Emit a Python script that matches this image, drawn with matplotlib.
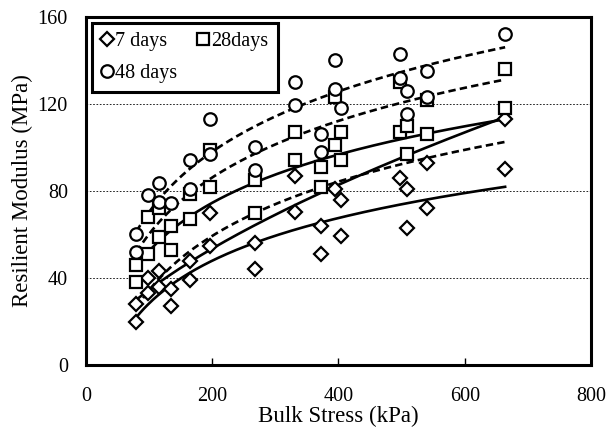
import matplotlib.pyplot as plt
import numpy as np

plt.rcParams['font.family'] = ['Liberation Serif', 'DejaVu Serif']

# 7 days
x7 = [80, 80, 99, 99, 116, 116, 134, 134, 165, 165, 196, 196, 268, 268,
      331, 331, 373, 373, 394, 404, 404, 497, 508, 508, 540, 540, 664, 664]
y7 = [20, 28, 33, 40, 36, 43, 27, 35, 39, 48, 54.5, 70, 44, 56,
      70.5, 87, 51, 64, 81, 59.5, 76, 86, 63, 81, 72, 93, 90, 113]

# 28 days
x28 = [80, 80, 99, 99, 116, 116, 134, 134, 165, 165, 196, 196, 268, 268,
       331, 331, 373, 373, 394, 394, 404, 404, 497, 497, 508, 508, 540, 540, 664, 664]
y28 = [38, 46, 51, 68, 59, 72, 53, 64, 67, 78.5, 82, 99, 70, 85,
       94, 107, 82, 91, 101, 123, 94, 107, 107, 130, 97, 110, 106, 122, 118, 136]

# 48 days
x48 = [80, 80, 99, 116, 116, 134, 165, 165, 196, 196, 268, 268,
       331, 331, 373, 373, 394, 394, 404, 497, 497, 508, 508, 540, 540, 664]
y48 = [52, 60, 78, 75, 83.5, 74.5, 81, 94, 97, 113, 89.5, 100,
       119.5, 130, 98, 106, 127, 140, 118, 132, 143, 115.5, 126, 123, 135, 152]

# trendlines (type, a, b, style): log -> a*ln(x)+b, pow -> a*x^b
fit_x = (80, 664)
fits = [
    ('log', 28.3, -102.0, '-'),
    ('pow', 1.9, 0.63, '-'),
    ('log', 32.0, -95.0, '-'),
    ('log', 36.0, -131.4, '--'),
    ('log', 37.5, -112.5, '--'),
    ('log', 40.0, -113.9, '--'),
]

fig = plt.figure(figsize=(6.08, 4.32), dpi=100)
ax = fig.add_axes([0.1414, 0.155, 0.8306, 0.806])

xs = np.linspace(fit_x[0], fit_x[1], 200)
for kind, a, b, ls in fits:
    ys = a * np.log(xs) + b if kind == 'log' else a * xs ** b
    dash = (0, (2.8, 1.6)) if ls == '--' else '-'
    ax.plot(xs, ys, color='black', lw=1.9, linestyle=dash, zorder=3)

mk = dict(color='black', linestyle='none', markerfacecolor='white',
          markeredgecolor='black', markeredgewidth=1.6, zorder=4)
h7, = ax.plot(x7, y7, marker='D', markersize=7, label='7 days', **mk)
h28, = ax.plot(x28, y28, marker='s', markersize=8.5, label='28days', **mk)
h48, = ax.plot(x48, y48, marker='o', markersize=9, label='48 days', **mk)

ax.set_xlim(0, 800)
ax.set_ylim(0, 160)
ax.set_xticks([0, 200, 400, 600, 800])
ax.set_yticks([0, 40, 80, 120, 160])
ax.yaxis.grid(True, color='black', linestyle=(0, (2, 2)), linewidth=0.6)
ax.tick_params(axis='x', direction='in', length=5, width=1, labelsize=14.5, pad=16)
ax.tick_params(axis='y', direction='in', length=0, labelsize=14.5, pad=13)
for s in ax.spines.values():
    s.set_linewidth(2.2)

ax.set_xlabel('Bulk Stress (kPa)', fontsize=16.5, labelpad=0)
ax.set_ylabel('Resilient Modulus (MPa)', fontsize=16.5, labelpad=3)

leg = ax.legend(handles=[h7, h48, h28], ncol=2, loc='upper left',
                fontsize=14.5, frameon=True, fancybox=False,
                handlelength=0.6, handletextpad=0.1, columnspacing=1.0,
                borderpad=0.45, labelspacing=0.65, borderaxespad=0.3)
leg.get_frame().set_edgecolor('black')
leg.get_frame().set_linewidth(2.2)
leg.get_frame().set_alpha(1)

fig.savefig('out.png', dpi=100)
